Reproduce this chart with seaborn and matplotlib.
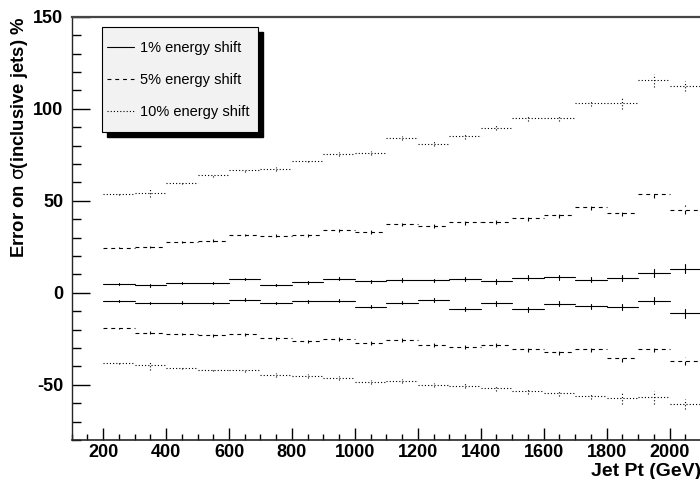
import numpy as np
import pandas as pd
import seaborn as sns
import matplotlib.pyplot as plt
from matplotlib.lines import Line2D
from matplotlib.patches import Rectangle
from matplotlib.ticker import MultipleLocator

# bin edges in jet pt (GeV)
bin_edges = [200, 300, 400, 500, 600, 700, 800, 900, 1000, 1100, 1200,
             1300, 1400, 1500, 1600, 1700, 1800, 1900, 2000, 2100]

# relative change of the inclusive jet cross section (%)
plus10 = [53.6, 54.2, 59.6, 63.8, 66.5, 67.2, 71.7, 75.5, 75.9, 83.9, 81.0,
          85.0, 89.8, 94.7, 94.8, 103.1, 102.9, 115.4, 112.5]
plus5 = [24.6, 25.0, 27.5, 28.4, 31.3, 31.0, 31.3, 33.9, 33.0, 37.1, 36.2,
         38.2, 38.4, 40.6, 42.0, 46.4, 43.3, 53.4, 45.1]
plus1 = [4.9, 4.0, 5.3, 5.2, 7.6, 4.2, 5.8, 7.6, 6.3, 6.9, 6.7,
         7.6, 6.2, 8.2, 8.5, 7.2, 7.9, 10.7, 13.0]
minus1 = [-4.3, -5.6, -5.3, -5.4, -3.8, -5.6, -4.7, -4.3, -7.6, -5.3, -3.8,
          -8.7, -5.8, -8.9, -6.0, -7.4, -7.8, -4.2, -11.2]
minus5 = [-19.4, -21.6, -22.6, -23.2, -22.6, -24.8, -26.3, -25.2, -27.4, -25.7, -28.6,
          -29.5, -28.3, -30.6, -32.2, -30.8, -35.7, -30.3, -37.1]
minus10 = [-38.2, -39.5, -40.9, -42.0, -42.0, -44.7, -45.3, -46.4, -48.4, -47.8, -50.0,
           -50.5, -52.0, -53.5, -54.6, -56.3, -57.3, -56.9, -60.3]

err1 = [0.5, 0.6, 0.6, 0.6, 0.7, 0.7, 0.8, 0.8, 0.9, 1.0, 1.0,
        1.1, 1.2, 1.3, 1.4, 1.5, 1.7, 2.0, 2.4]
err5 = [0.5, 0.6, 0.6, 0.7, 0.7, 0.8, 0.8, 0.9, 1.0, 1.0, 1.1,
        1.2, 1.3, 1.4, 1.5, 1.6, 1.8, 2.1, 2.4]
err10 = [0.6, 2.4, 0.7, 0.7, 0.8, 0.9, 0.9, 1.0, 1.1, 1.1, 1.2,
         1.3, 1.4, 1.5, 1.6, 1.5, 3.2, 3.4, 2.7]

shifts = ['1%', '5%', '10%']
legend_labels = ['1% energy shift', '5% energy shift', '10% energy shift']

series = [('1%', plus1, err1), ('1%', minus1, err1),
          ('5%', plus5, err5), ('5%', minus5, err5),
          ('10%', plus10, err10), ('10%', minus10, err10)]

# long tables: one unit per horizontal bin segment / error bar
seg_rows = []
err_rows = []
unit = 0
for shift, vals, errs in series:
    for i in range(len(vals)):
        lo, hi = bin_edges[i], bin_edges[i + 1]
        seg_rows.append((lo, vals[i], unit, shift))
        seg_rows.append((hi, vals[i], unit, shift))
        c = 0.5 * (lo + hi)
        err_rows.append((c, vals[i] - errs[i], unit, shift))
        err_rows.append((c, vals[i] + errs[i], unit, shift))
        unit += 1
seg_df = pd.DataFrame(seg_rows, columns=['pt', 'val', 'unit', 'shift'])
err_df = pd.DataFrame(err_rows, columns=['pt', 'val', 'unit', 'shift'])

sns.set_theme(style='ticks')
plt.rcParams['font.family'] = ['Liberation Sans', 'DejaVu Sans']
plt.rcParams['axes.unicode_minus'] = False
plt.rcParams['lines.scale_dashes'] = False
plt.rcParams['text.color'] = 'black'
plt.rcParams['axes.labelcolor'] = 'black'

dash_map = {'1%': '', '5%': (2.8, 2.8), '10%': (0.8, 1.5)}

fig = plt.figure(figsize=(7, 4.79), dpi=100)
ax = fig.add_axes([0.1024, 0.0814, 0.899, 0.8837])

sns.lineplot(data=seg_df, x='pt', y='val', units='unit', estimator=None,
             style='shift', dashes=dash_map, color='black', lw=0.8,
             sort=False, legend=False, ax=ax)
sns.lineplot(data=err_df, x='pt', y='val', units='unit', estimator=None,
             style='shift', dashes=dash_map, color='black', lw=0.8,
             sort=False, legend=False, ax=ax)

ax.set_xlim(100, 2100)
ax.set_ylim(-80, 150)
ax.xaxis.set_major_locator(MultipleLocator(200))
ax.xaxis.set_minor_locator(MultipleLocator(50))
ax.yaxis.set_major_locator(MultipleLocator(50))
ax.yaxis.set_minor_locator(MultipleLocator(10))
ax.tick_params(axis='both', which='both', direction='in', width=1.0, colors='black')
ax.tick_params(axis='x', which='major', length=8.6, pad=3)
ax.tick_params(axis='x', which='minor', length=4.3)
ax.tick_params(axis='y', which='major', length=13, pad=6)
ax.tick_params(axis='y', which='minor', length=6.5)
for lab in ax.get_xticklabels() + ax.get_yticklabels():
    lab.set_fontsize(13)
    lab.set_fontweight('bold')

ax.spines['right'].set_visible(False)
ax.spines['top'].set_color('#454545')
ax.spines['top'].set_linewidth(1.6)
ax.spines['left'].set_linewidth(1.0)
ax.spines['bottom'].set_linewidth(1.2)

ax.set_xlabel('Jet Pt (GeV)', loc='right', fontsize=14, fontweight='bold', labelpad=1)
ax.set_ylabel('')
fig.text(20 / 700, 1 - 17 / 479, r'Error on $\mathrm{\sigma}$(inclusive jets) %', rotation=90,
         ha='center', va='top', fontsize=13.3, fontweight='bold')

# legend box with hard shadow
bx, by, bw, bh = 0.1453, 0.7251, 0.2237, 0.218
fig.patches.append(Rectangle((bx + 5 / 700, by - 5 / 479), bw, bh, transform=fig.transFigure,
                             facecolor='black', edgecolor='black', zorder=1))
fig.patches.append(Rectangle((bx, by), bw, bh, transform=fig.transFigure,
                             facecolor='#f2f2f2', edgecolor='black', lw=0.8, zorder=2))
handles = [Line2D([0], [0], color='black', lw=0.8, dashes=dash_map[s]) if dash_map[s]
           else Line2D([0], [0], color='black', lw=0.8) for s in shifts]
fig.legend(handles, legend_labels, loc='center left', bbox_to_anchor=(106.7 / 700, 1 - 80 / 479),
           frameon=False, fontsize=10.5, handlelength=1.9, handletextpad=0.4,
           labelspacing=1.25, borderpad=0, borderaxespad=0)

plt.savefig('out.png', dpi=100)
plt.close()
